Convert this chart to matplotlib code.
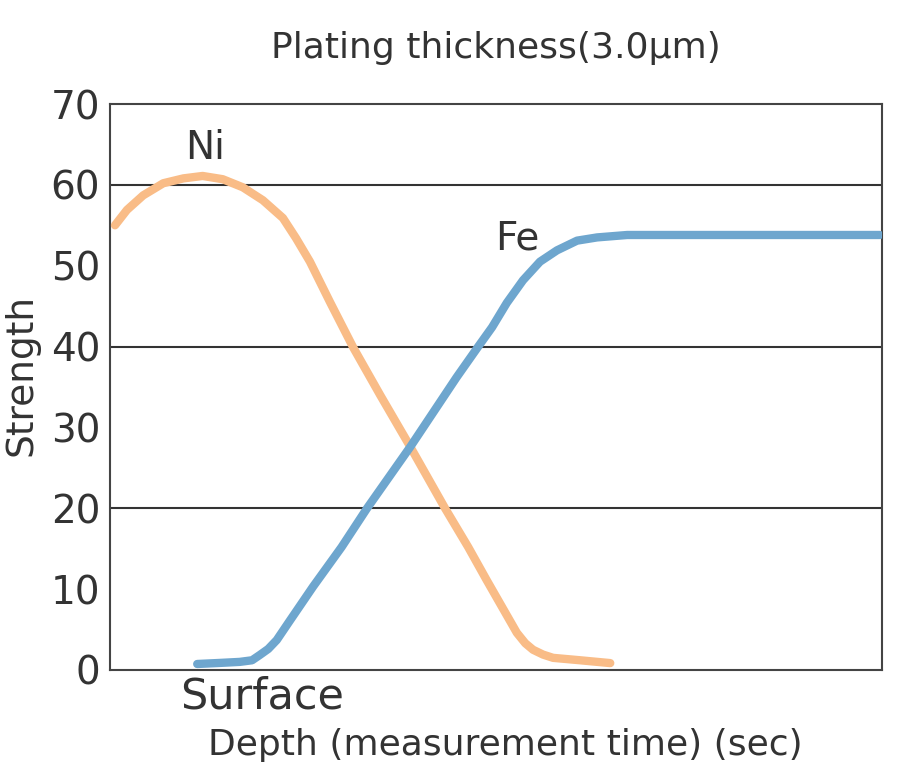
import matplotlib.pyplot as plt

plt.rcParams['font.family'] = ['DejaVu Sans']

# depth axis is unitless (0-100), strength 0-70
ni_x = [0.65, 2.2, 4.3, 6.9, 9.5, 12.0, 14.6, 17.2, 19.8, 22.4, 24.1, 25.9,
        28.5, 31.5, 35.0, 38.9, 43.4, 46.4, 48.8, 52.7, 53.8, 54.8, 56.1, 57.4,
        60.9, 64.8]
ni_y = [55.0, 56.9, 58.7, 60.2, 60.8, 61.1, 60.7, 59.7, 58.1, 55.9, 53.4, 50.5,
        45.5, 39.9, 34.0, 27.6, 20.0, 15.2, 11.1, 4.6, 3.3, 2.5, 1.9, 1.5,
        1.2, 0.85]

fe_x = [11.3, 14.2, 16.8, 18.4, 19.4, 20.5, 21.6, 23.3, 26.3, 30.0, 33.3,
        38.9, 44.9, 47.7, 49.5, 51.4, 53.5, 55.7, 57.9, 60.5, 63.1, 67.0, 99.7]
fe_y = [0.74, 0.87, 1.0, 1.2, 1.85, 2.6, 3.7, 6.1, 10.3, 15.2, 20.0,
        27.6, 36.2, 40.0, 42.4, 45.4, 48.2, 50.5, 51.9, 53.1, 53.5, 53.8, 53.8]

yticks = [0, 10, 20, 30, 40, 50, 60, 70]

text_color = '#333333'

fig = plt.figure(figsize=(9, 7.67), dpi=100)
ax = fig.add_axes([0.1222, 0.1265, 0.8578, 0.7379])

for g in [20, 40, 60]:
    ax.axhline(g, color='#333333', lw=1.5, zorder=1)

ax.plot(ni_x, ni_y, color='#F9BC87', lw=6, solid_capstyle='round',
        solid_joinstyle='round', zorder=3)
ax.plot(fe_x, fe_y, color='#6EA6CE', lw=6, solid_capstyle='round',
        solid_joinstyle='round', zorder=3)

ax.set_xlim(0, 100)
ax.set_ylim(0, 70)
ax.set_xticks([])
ax.set_yticks(yticks)
ax.set_yticklabels([str(t) for t in yticks], fontsize=28, color=text_color)
ax.tick_params(axis='y', length=0, pad=7)

for s in ax.spines.values():
    s.set_color('#444444')
    s.set_linewidth(1.5)

ax.text(12.3, 64.6, 'Ni', fontsize=28, color=text_color, ha='center', va='center')
ax.text(52.7, 53.4, 'Fe', fontsize=28, color=text_color, ha='center', va='center')
ax.text(19.7, -3.3, 'Surface', fontsize=31, color=text_color, ha='center',
        va='center', clip_on=False)
ax.text(0.512, -0.1325, 'Depth (measurement time) (sec)', transform=ax.transAxes,
        fontsize=26, color=text_color, ha='center', va='center')
ax.set_ylabel('Strength', fontsize=27, color=text_color)
ax.yaxis.set_label_coords(-0.0907, 0.521)
ax.set_title('Plating thickness(3.0μm)', fontsize=26, color=text_color, pad=33)

fig.savefig('out.png', dpi=100)
plt.close(fig)
